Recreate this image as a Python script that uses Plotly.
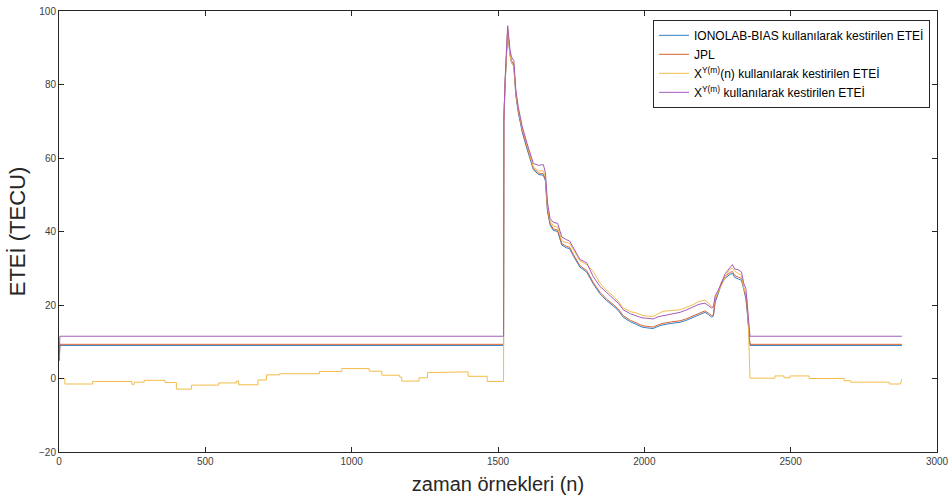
import plotly.graph_objects as go

# Night-time levels (constant TEC estimates outside the daytime window)
n_start = 1
n_flat_begin = 3
n_rise = 1519
n_fall = 2361
n_last = 2880

ionolab_start, ionolab_flat = 5.0, 9.0
jpl_start, jpl_flat = 4.8, 9.3
xym_start, xym_flat = 7.0, 11.5

# Daytime samples shared by all four series
n_day = [1520, 1524, 1533, 1541, 1546, 1554, 1561, 1569, 1583, 1599,
         1621, 1639, 1655, 1662, 1669, 1678, 1689, 1704, 1718, 1733,
         1745, 1758, 1780, 1803, 1825, 1848, 1871, 1893, 1911, 1928,
         1953, 1974, 1992, 2007, 2030, 2047, 2064, 2092, 2122, 2142,
         2167, 2187, 2207, 2219, 2230, 2236, 2242, 2252, 2264, 2276,
         2286, 2294, 2301, 2309, 2321, 2332, 2340, 2347, 2351, 2355,
         2359]

ionolab_day = [70.0, 79.5, 94.5, 88.0, 86.0, 85.0, 77.0, 72.5, 67.0, 62.5,
               56.8, 55.5, 55.3, 53.8, 45.5, 41.8, 40.3, 40.0, 36.3, 35.6,
               35.3, 33.3, 30.3, 29.0, 25.8, 23.1, 21.2, 19.8, 18.5, 16.7,
               15.4, 14.7, 14.0, 13.8, 13.6, 14.2, 14.6, 15.0, 15.3, 15.8,
               16.6, 17.4, 18.0, 17.4, 16.7, 17.0, 20.8, 23.0, 25.8, 27.3,
               28.0, 28.4, 28.6, 27.5, 27.1, 26.7, 24.2, 21.7, 18.7, 14.8,
               10.0]

jpl_day = [70.0, 80.0, 95.0, 88.5, 86.5, 85.5, 77.5, 73.0, 67.5, 63.0,
           57.2, 55.9, 55.7, 54.2, 46.0, 42.2, 40.7, 40.4, 36.7, 36.0,
           35.7, 33.7, 30.7, 29.4, 26.2, 23.5, 21.6, 20.2, 18.9, 17.1,
           15.8, 15.1, 14.4, 14.2, 14.0, 14.6, 15.0, 15.4, 15.7, 16.2,
           17.0, 17.8, 18.4, 17.8, 17.1, 17.4, 21.2, 23.4, 26.3, 27.8,
           28.5, 28.9, 29.1, 28.0, 27.6, 27.2, 24.6, 22.1, 19.1, 15.2,
           10.2]

xymn_day = [70.0, 80.0, 95.5, 88.0, 86.0, 85.0, 78.0, 73.5, 68.0, 63.5,
            57.5, 56.5, 56.5, 55.0, 47.0, 43.0, 41.5, 41.2, 37.5, 37.0,
            36.8, 35.0, 32.0, 31.0, 29.2, 26.0, 24.0, 22.5, 21.0, 19.2,
            18.2, 17.8, 17.2, 17.0, 16.9, 17.6, 18.3, 18.5, 18.7, 19.3,
            20.1, 21.0, 21.3, 20.5, 19.5, 19.3, 21.8, 23.5, 25.5, 27.5,
            29.0, 29.8, 30.0, 29.2, 28.5, 28.0, 24.5, 23.0, 21.5, 16.0,
            5.0]

xym_day = [70.0, 81.0, 96.0, 89.5, 87.5, 86.5, 78.5, 74.0, 68.5, 64.0,
           58.5, 58.0, 58.2, 56.0, 48.0, 43.5, 42.5, 42.2, 38.5, 37.8,
           37.4, 35.5, 32.4, 31.5, 27.8, 25.1, 23.3, 21.8, 20.5, 18.7,
           17.6, 16.9, 16.5, 16.4, 16.2, 16.8, 17.1, 17.5, 18.0, 18.6,
           19.4, 20.2, 20.5, 19.8, 19.2, 19.5, 22.5, 24.0, 26.0, 28.5,
           29.6, 30.2, 31.0, 29.8, 29.6, 29.0, 25.8, 24.5, 20.0, 17.0,
           12.5]

# Piecewise-constant night values of X^Y(m)(n)
xymn_night1_n = [1, 20, 115, 249, 257, 291, 362, 401, 453, 546, 606, 614,
                 680, 709, 754, 890, 966, 1060, 1103, 1164, 1171, 1230,
                 1259, 1342, 1398, 1463]
xymn_night1_v = [0.0, -1.5, -0.8, -1.6, -1.0, -0.5, -1.1, -2.9, -1.8, -1.2,
                 -0.7, -1.7, -0.4, 1.0, 1.3, 1.9, 2.7, 2.0, 0.9, 0.4, -0.7,
                 0.2, 1.6, 1.8, 0.6, -0.8]
xymn_night2_n = [2361, 2446, 2477, 2498, 2563, 2683, 2705, 2837]
xymn_night2_v = [0.1, 0.7, 0.2, 0.7, 0.0, -0.6, -1.0, -1.5]
xymn_step_end = 2875
xymn_last = -0.2

names = ["IONOLAB-BIAS kullanılarak kestirilen ETEİ",
         "JPL",
         "X<sup>Y(m)</sup>(n) kullanılarak kestirilen ETEİ",
         "X<sup>Y(m)</sup> kullanılarak kestirilen ETEİ"]
colors = ["#2f7fc1", "#dc6336", "#f1bd4a", "#a45bbb"]

x_ticks = [0, 500, 1000, 1500, 2000, 2500, 3000]
y_ticks = [-20, 0, 20, 40, 60, 80, 100]


def stairs(n, v, n_end):
    xs, ys = [], []
    for i, (a, b) in enumerate(zip(n, v)):
        nxt = n[i + 1] if i + 1 < len(n) else n_end
        xs += [a, nxt]
        ys += [b, b]
    return xs, ys


def flat_series(start, level, day):
    xs = [n_start, n_flat_begin, n_rise] + n_day + [n_fall, n_last]
    ys = [start, level, level] + day + [level, level]
    return xs, ys


fig = go.Figure()

series = [flat_series(ionolab_start, ionolab_flat, ionolab_day),
          flat_series(jpl_start, jpl_flat, jpl_day)]

s1x, s1y = stairs(xymn_night1_n, xymn_night1_v, n_rise)
s2x, s2y = stairs(xymn_night2_n, xymn_night2_v, xymn_step_end)
series.append((s1x + n_day + s2x + [n_last], s1y + xymn_day + s2y + [xymn_last]))
series.append(flat_series(xym_start, xym_flat, xym_day))

for (xs, ys), name, col in zip(series, names, colors):
    fig.add_trace(go.Scatter(x=xs, y=ys, mode="lines", name=name,
                             line=dict(color=col, width=1.0)))

axis_common = dict(showgrid=False, zeroline=False, showline=True,
                   linecolor="#262626", linewidth=1, mirror="allticks",
                   ticks="inside", ticklen=5, tickcolor="#262626",
                   automargin=False,
                   tickfont=dict(family="Liberation Sans, Arial", size=10,
                                 color="#404040"))

fig.update_layout(
    width=952, height=502,
    margin=dict(l=59, r=15, t=11, b=50),
    paper_bgcolor="white", plot_bgcolor="white",
    font=dict(family="Liberation Sans, Arial", color="#262626"),
    xaxis=dict(range=[0, 3000], tickvals=x_ticks,
               title=dict(text="zaman örnekleri (n)", standoff=10,
                          font=dict(size=20, color="#262626")),
               **axis_common),
    yaxis=dict(range=[-20, 100], tickvals=y_ticks,
               title=dict(text="ETEİ (TECU)", standoff=7,
                          font=dict(size=22, color="#262626")),
               **axis_common),
    legend=dict(x=0.992, y=0.98, xanchor="right", yanchor="top",
                bgcolor="white", bordercolor="#262626", borderwidth=1,
                font=dict(size=12, color="#000000"), tracegroupgap=0,
                itemwidth=30),
    showlegend=True,
)

fig.write_html("out.html")
